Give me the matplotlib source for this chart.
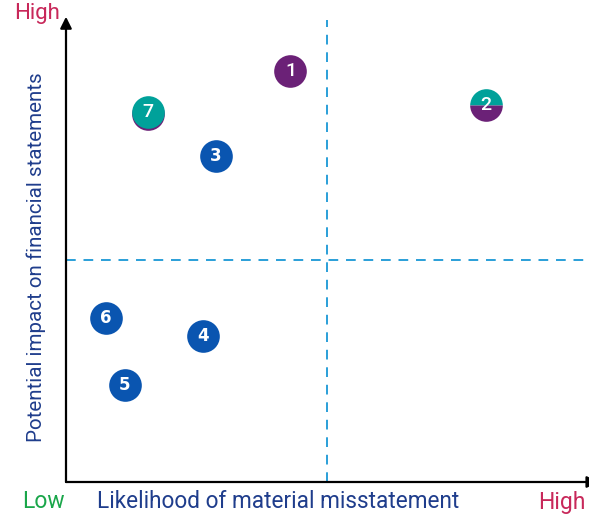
import matplotlib
matplotlib.use("Agg")
import matplotlib.pyplot as plt

labels = ["1", "2", "3", "4", "5", "6", "7"]
likelihood = [4.3, 8.05, 2.87, 2.62, 1.13, 0.77, 1.57]
impact = [8.9, 8.15, 7.05, 3.15, 2.1, 3.55, 8.0]
kinds = ["purple", "split", "blue", "blue", "blue", "blue", "teal"]

PURPLE = "#6b2177"
TEAL = "#00a19a"
BLUE = "#0a55b0"
DASH = "#2a9fd8"

plt.rcParams['font.family'] = ['Roboto', 'DejaVu Sans']
fig = plt.figure(figsize=(5.89, 5.14), dpi=100)
ax = fig.add_axes([66/589, 32/514, 522/589, 462/514])
ax.set_xlim(0, 10)
ax.set_ylim(0, 10)
for s in ax.spines.values():
    s.set_visible(False)
ax.set_xticks([])
ax.set_yticks([])

# axes arrows
ax.annotate("", xy=(0, 1.007), xytext=(0, 0), xycoords='axes fraction',
            arrowprops=dict(arrowstyle='-|>', color='black', lw=1.6, mutation_scale=17,
                            shrinkA=0, shrinkB=0), annotation_clip=False)
ax.annotate("", xy=(1.02, 0), xytext=(0, 0), xycoords='axes fraction',
            arrowprops=dict(arrowstyle='-|>', color='black', lw=1.6, mutation_scale=17,
                            shrinkA=0, shrinkB=0), annotation_clip=False)

ax.axvline(5.0, color=DASH, lw=1.4, ls=(0, (5, 4)), ymax=1.0)
ax.axhline(4.8, color=DASH, lw=1.4, ls=(0, (5, 4)))

ms = 23.5
for lab, x, y, k in zip(labels, likelihood, impact, kinds):
    if k == "split":
        ax.plot(x, y, marker='o', ms=ms, fillstyle='top', markerfacecolor=TEAL,
                markerfacecoloralt=PURPLE, markeredgewidth=0, ls='none', zorder=3)
    elif k == "teal":
        ax.plot(x, y - 0.04, marker='o', ms=ms, color=PURPLE, markeredgewidth=0, ls='none', zorder=2)
        ax.plot(x, y, marker='o', ms=ms, color=TEAL, markeredgewidth=0, ls='none', zorder=3)
    else:
        c = PURPLE if k == "purple" else BLUE
        ax.plot(x, y, marker='o', ms=ms, color=c, markeredgewidth=0, ls='none', zorder=3)
    if k == "blue":
        ax.text(x, y, lab, color='white', ha='center', va='center', fontsize=12,
                fontweight='bold', zorder=4, family=['DejaVu Sans'])
    else:
        ax.text(x, y, lab, color='white', ha='center', va='center', fontsize=14,
                fontweight='medium', zorder=4)

fig.text(14/589, 1 - 14/514, "High", color="#c8285a", fontsize=16, ha='left', va='center')
fig.text(22/589, 1 - 502/514, "Low", color="#1aa64a", fontsize=16.5, ha='left', va='center')
fig.text(97/589, 1 - 502/514, "Likelihood of material misstatement", color="#1f3d8c",
         fontsize=16.3, ha='left', va='center')
fig.text(586/589, 1 - 502/514, "High", color="#c8285a", fontsize=16.5, ha='right', va='center')
fig.text(36/589, 1 - 257/514, "Potential impact on financial statements", color="#1f3d8c",
         fontsize=14.8, ha='center', va='center', rotation=90)

fig.savefig("out.png", dpi=100)
